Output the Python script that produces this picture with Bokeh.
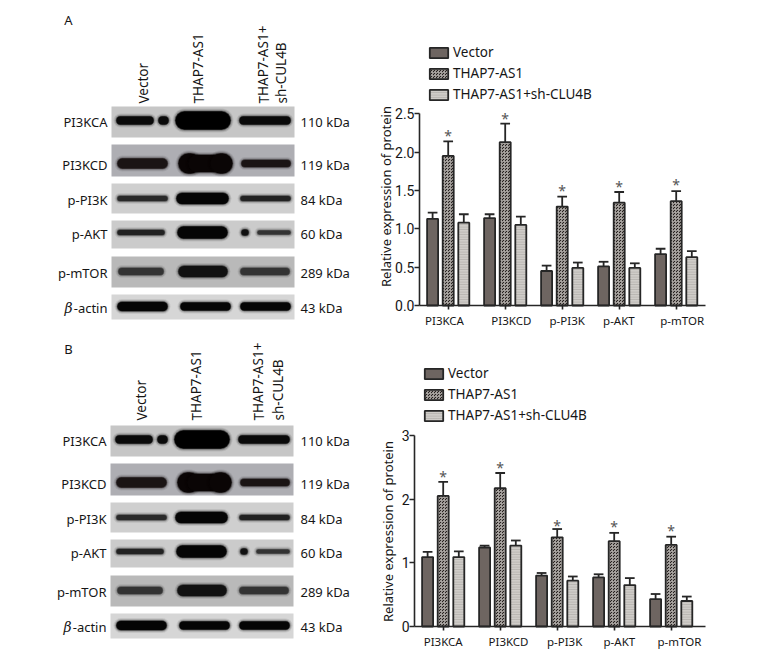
from bokeh.plotting import figure
from bokeh.layouts import row, column
from bokeh.models import LinearAxis, FixedTicker, Range1d, Legend, LegendItem
from bokeh.core.properties import value
from bokeh.embed import file_html
from bokeh.resources import INLINE

FONT = "Noto Sans"
INK = "#262626"
TXT = "#161616"

# ---------- bar chart data ----------
targets = ["PI3KCA", "PI3KCD", "p-PI3K", "p-AKT", "p-mTOR"]
groups = ["Vector", "THAP7-AS1", "THAP7-AS1+sh-CLU4B"]

a_vector = [1.13, 1.14, 0.45, 0.51, 0.67]
a_thap = [1.95, 2.13, 1.29, 1.34, 1.36]
a_sh = [1.08, 1.05, 0.49, 0.49, 0.63]
a_vector_top = [1.21, 1.19, 0.52, 0.57, 0.74]
a_thap_top = [2.14, 2.37, 1.42, 1.48, 1.49]
a_sh_top = [1.19, 1.16, 0.56, 0.55, 0.71]
a_star = [2.25, 2.48, 1.54, 1.59, 1.62]

b_vector = [1.09, 1.24, 0.80, 0.77, 0.43]
b_thap = [2.05, 2.17, 1.40, 1.34, 1.28]
b_sh = [1.09, 1.27, 0.72, 0.65, 0.40]
b_vector_top = [1.17, 1.27, 0.84, 0.82, 0.51]
b_thap_top = [2.27, 2.41, 1.53, 1.47, 1.41]
b_sh_top = [1.18, 1.35, 0.785, 0.76, 0.47]
b_star = [2.40, 2.54, 1.64, 1.61, 1.55]

a_label_shift = [-0.065, 0.108, 0.088, -0.005, 0.105]
b_label_shift = [0.0, 0.146, 0.13, 0.09, 0.145]

# ---------- blot data (row index, band start, band end, thickness, colour) ----------
blot_rows = ["PI3KCA", "PI3KCD", "p-PI3K", "p-AKT", "p-mTOR"]
blot_kda = ["110 kDa", "119 kDa", "84 kDa", "60 kDa", "289 kDa", "43 kDa"]
blot_top = [106, 144, 183, 220, 256, 294]
blot_bot = [137, 176, 213, 248, 287, 319]
blot_bg = ["#c6c6c6", "#aeaeb3", "#cfcfcf", "#cbcbcb", "#b9b9b9", "#d6d6d6"]
blot_mid = [120, 163, 198, 232, 271, 306]
bands = [
    (0, 116, 153, 8, "#0a0a0a"), (0, 158, 168, 8, "#0a0a0a"), (0, 175, 230, 18, "#000000"), (0, 239, 290, 8, "#0a0a0a"),
    (1, 117, 167, 10, "#1a1414"), (1, 178, 200, 20, "#0a0505"), (1, 188, 222, 17, "#0a0505"), (1, 210, 232, 20, "#0a0505"), (1, 241, 290, 7, "#1a1414"),
    (2, 117, 167, 5, "#2a2a2a"), (2, 176, 228, 11, "#050505"), (2, 240, 290, 5, "#222222"),
    (3, 117, 164, 5, "#222222"), (3, 177, 227, 12, "#050505"), (3, 241, 248, 6, "#111111"), (3, 257, 290, 4, "#333333"),
    (4, 118, 163, 7, "#333333"), (4, 178, 227, 11, "#111111"), (4, 240, 289, 7, "#333333"),
    (5, 117, 167, 9, "#050505"), (5, 180, 230, 8, "#050505"), (5, 240, 290, 8, "#050505"),
]


def blot(p, letter, letter_xy, dx, dy, heads):
    for i, (t, b, c) in enumerate(zip(blot_top, blot_bot, blot_bg)):
        p.quad(left=111 + dx, right=294 + dx, top=t + dy, bottom=b + dy, fill_color=c, line_color=None)
    for r, x0, x1, th, col in bands:
        y = blot_mid[r] + dy
        for extra, alpha in ((6, .08), (4, .15), (2, .3), (1, .5), (0, 1)):
            w = th + extra
            p.segment(x0=[x0 + dx + th / 2], x1=[x1 + dx - th / 2], y0=[y], y1=[y],
                      line_color=col, line_alpha=alpha, line_width=w, line_cap="round")
    for r, lab in enumerate(blot_rows):
        p.text(x=[107 + dx], y=[blot_mid[r] + dy + 1], text=[lab], text_align="right", text_baseline="middle",
               text_font=value(FONT), text_font_size="13px", text_color=TXT)
    y = blot_mid[5] + dy + 1
    p.text(x=[107 + dx], y=[y], text=["-actin"], text_align="right", text_baseline="middle",
           text_font=value(FONT), text_font_size="13px", text_color=TXT)
    p.text(x=[72 + dx], y=[y], text=["β"], text_align="right", text_baseline="middle",
           text_font=value("DejaVu Serif"), text_font_style="italic", text_font_size="14px", text_color=TXT)
    for r, lab in enumerate(blot_kda):
        p.text(x=[300], y=[blot_mid[r] + dy + 1], text=[lab], text_align="left", text_baseline="middle",
               text_font=value(FONT), text_font_size="13px", text_color=TXT)
    p.text(x=[letter_xy[0]], y=[letter_xy[1]], text=[letter], text_align="center", text_baseline="middle",
           text_font=value(FONT), text_font_size="13px", text_color=TXT)
    for txt, x, yb in heads:
        p.text(x=[x], y=[yb], text=[txt], angle=1.5708, text_align="left", text_baseline="middle",
               text_font=value(FONT), text_font_size="13.5px", text_color=TXT)


left = figure(width=370, height=649, x_range=Range1d(0, 370), y_range=Range1d(649, 0),
              toolbar_location=None, output_backend="svg", min_border=0, outline_line_color=None,
              x_axis_type=None, y_axis_type=None)
left.grid.visible = False
blot(left, "A", (68, 19), 0, 0,
     [("Vector", 143, 103), ("THAP7-AS1", 198, 103), ("THAP7-AS1+", 263, 103), ("sh-CUL4B", 281, 103)])
blot(left, "B", (68, 348), -1, 319,
     [("Vector", 141, 420), ("THAP7-AS1", 196, 420), ("THAP7-AS1+", 258, 420), ("sh-CUL4B", 278, 420)])


def bars(top_px, height, axis_px, group0, zero_px, unit_px, ticks, ticklabels, vals, tops, stars,
         label_shift, legend_left, legend_bottom, title_x, title_mid, label_y):
    spacing = 57.0
    step = 15.6 / spacing
    width = 11.0 / spacing
    to_x = lambda px: (px - group0) / spacing
    to_y = lambda px: (zero_px - px) / unit_px
    p = figure(width=387, height=height, x_range=Range1d(to_x(370), to_x(757)),
               y_range=Range1d(to_y(top_px + height), to_y(top_px)),
               toolbar_location=None, output_backend="svg", outline_line_color=None,
               x_axis_type=None, y_axis_type=None, min_border=0)
    p.grid.visible = False
    styles = [
        dict(fill_color="#6e6561"),
        dict(fill_color="#26211f", hatch_pattern="criss_cross", hatch_color="#a8a4a0", hatch_scale=3, hatch_weight=.9),
        dict(fill_color="#cfccc8", hatch_pattern="horizontal_line", hatch_color="#a5a29e", hatch_scale=2.5, hatch_weight=.6),
    ]
    rends = []
    xs_all = list(range(len(targets)))
    for k in range(3):
        xs = [i + (k - 1) * step for i in xs_all]
        p.segment(x0=xs, x1=xs, y0=vals[k], y1=tops[k], line_color=INK, line_width=1.8)
        p.segment(x0=[x - .085 for x in xs], x1=[x + .085 for x in xs], y0=tops[k], y1=tops[k], line_color=INK, line_width=1.8)
        r = p.vbar(x=xs, top=vals[k], bottom=0, width=width, line_color=INK, line_width=1.8, **styles[k])
        rends.append(r)
    p.text(x=xs_all, y=stars, text=["*"] * 5, text_align="center", text_baseline="middle",
           text_font=value(FONT), text_font_size="14px", text_color="#555555", y_offset=3)

    yax = LinearAxis(ticker=FixedTicker(ticks=ticks), major_label_overrides={t: l for t, l in zip(ticks, ticklabels)},
                     bounds=(0, ticks[-1]), fixed_location=to_x(axis_px))
    yax.major_label_text_font = "Roboto"
    yax.major_label_text_font_size = "14px"
    yax.major_label_text_color = TXT
    yax.major_label_standoff = 0
    yax.major_tick_in = 0
    yax.major_tick_out = 5
    yax.minor_tick_line_color = None
    yax.axis_line_width = 1.6
    yax.axis_line_color = INK
    yax.major_tick_line_width = 1.6
    yax.major_tick_line_color = INK
    p.add_layout(yax, "left")

    tickax = LinearAxis(ticker=FixedTicker(ticks=xs_all), bounds=(to_x(axis_px), to_x(705)), fixed_location=0,
                        major_label_text_font_size="0px", major_label_standoff=0)
    tickax.major_label_overrides = {i: "" for i in xs_all}
    tickax.major_tick_in = 0
    tickax.major_tick_out = 4
    tickax.minor_tick_line_color = None
    tickax.axis_line_width = 1.6
    tickax.axis_line_color = INK
    tickax.major_tick_line_width = 1.6
    tickax.major_tick_line_color = INK
    p.add_layout(tickax, "below")

    p.text(x=[i + s for i, s in zip(xs_all, label_shift)], y=[to_y(label_y)] * 5, text=targets,
           text_align="center", text_baseline="middle", text_font=value(FONT), text_font_size="11.5px",
           text_color=TXT)
    p.text(x=[to_x(title_x)], y=[to_y(title_mid)], text=["Relative expression of protein"], angle=1.5708,
           text_align="center", text_baseline="middle", text_font=value(FONT), text_font_size="13px",
           text_color=TXT)

    leg = Legend(items=[LegendItem(label=g, renderers=[r]) for g, r in zip(groups, rends)],
                 location=(legend_left - 370, top_px + height - legend_bottom), orientation="vertical",
                 background_fill_alpha=0, border_line_alpha=0,
                 glyph_width=23, glyph_height=13, spacing=3, padding=0, margin=0, label_standoff=3,
                 label_text_font=FONT, label_text_font_size="13.5px", label_text_color=TXT,
                 label_height=13)
    p.add_layout(leg)
    return p


chart_a = bars(0, 330, 419, 447.7, 305, 76.7, [0, .5, 1, 1.5, 2, 2.5], ["0.0", "0.5", "1.0", "1.5", "2.0", "2.5"],
               [a_vector, a_thap, a_sh], [a_vector_top, a_thap_top, a_sh_top], a_star, a_label_shift,
               427, 103, 385.7, 196, 320)
chart_b = bars(330, 319, 414, 442.7, 626, 63.7, [0, 1, 2, 3], ["0", "1", "2", "3"],
               [b_vector, b_thap, b_sh], [b_vector_top, b_thap_top, b_sh_top], b_star, b_label_shift,
               422, 424, 387.3, 531, 640.7)

layout = row(left, column(chart_a, chart_b, spacing=0), spacing=0)
open("out.html", "w").write(file_html(layout, INLINE))
